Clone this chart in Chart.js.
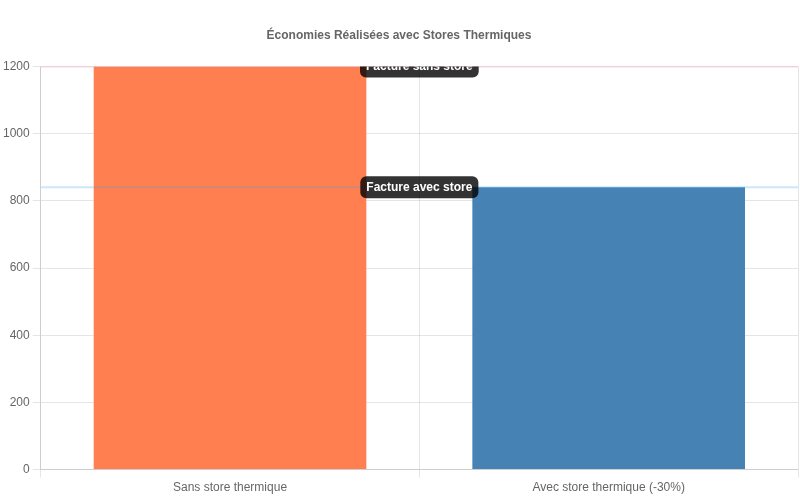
<!DOCTYPE html>
<html>
<head>
<meta charset="utf-8">
<script src="https://cdn.jsdelivr.net/npm/chart.js@4"></script>
<style>
  body { margin: 0; background: #fff; }
  #wrap { width: 800px; height: 500px; }
</style>
</head>
<body>
<div id="wrap"><canvas id="chart"></canvas></div>
<script>
const categories = ['Sans store thermique', 'Avec store thermique (-30%)'];
const factures = [1200, 840];
const barColors = ['#FF7F50', '#4682B4'];

// reference lines with their labels
const refLines = [
  { value: 1200, label: 'Facture sans store', color: 'rgba(255, 99, 132, 0.25)' },
  { value: 840, label: 'Facture avec store', color: 'rgba(54, 162, 235, 0.25)' }
];

const refLinePlugin = {
  id: 'refLines',
  afterDatasetsDraw(chart) {
    const { ctx, chartArea, scales } = chart;
    const cx = (chartArea.left + chartArea.right) / 2;
    ctx.save();
    ctx.beginPath();
    ctx.rect(chartArea.left, chartArea.top, chartArea.right - chartArea.left, chartArea.bottom - chartArea.top);
    ctx.clip();
    refLines.forEach(line => {
      const y = scales.y.getPixelForValue(line.value);
      ctx.strokeStyle = line.color;
      ctx.lineWidth = 2;
      ctx.beginPath();
      ctx.moveTo(chartArea.left, y);
      ctx.lineTo(chartArea.right, y);
      ctx.stroke();

      ctx.font = 'bold 12px "Liberation Sans", Arial, sans-serif';
      const w = ctx.measureText(line.label).width + 12;
      const h = 22;
      ctx.fillStyle = 'rgba(0, 0, 0, 0.8)';
      ctx.beginPath();
      ctx.roundRect(cx - w / 2, y - h / 2, w, h, 6);
      ctx.fill();
      ctx.fillStyle = '#fff';
      ctx.textAlign = 'center';
      ctx.textBaseline = 'middle';
      ctx.fillText(line.label, cx, y);
    });
    ctx.restore();
  }
};

Chart.defaults.font.family = '"Liberation Sans", Arial, sans-serif';
Chart.defaults.color = '#666';

new Chart(document.getElementById('chart'), {
  type: 'bar',
  data: {
    labels: categories,
    datasets: [{
      label: 'Facture',
      data: factures,
      backgroundColor: barColors
    }]
  },
  options: {
    responsive: true,
    maintainAspectRatio: false,
    animation: false,
    layout: { padding: { right: 2, bottom: 2 } },
    plugins: {
      legend: { display: false },
      tooltip: { enabled: false },
      title: {
        display: true,
        text: 'Économies Réalisées avec Stores Thermiques',
        font: { size: 12, weight: 'bold' },
        padding: { top: 28, bottom: 24 }
      }
    },
    scales: {
      x: { ticks: { font: { size: 12 } } },
      y: {
        beginAtZero: true,
        max: 1200,
        ticks: {
          stepSize: 200,
          font: { size: 12 },
          callback: v => String(v)
        }
      }
    }
  },
  plugins: [refLinePlugin]
});
</script>
</body>
</html>
